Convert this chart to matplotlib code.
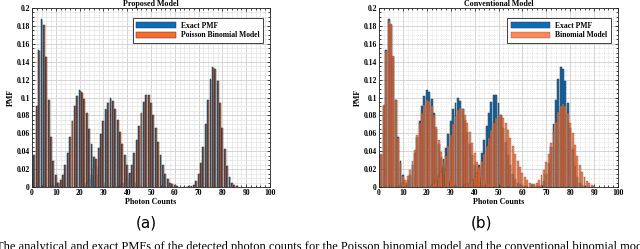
import numpy as np
import matplotlib
matplotlib.use("Agg")
import matplotlib.pyplot as plt
from matplotlib.ticker import MultipleLocator

# ---------------- data ----------------
# five component PMFs, each given as a start count and values at consecutive counts
exact_starts = [0, 9, 22, 36, 64]
exact_1 = [0.008, 0.036, 0.091, 0.153, 0.188, 0.181, 0.145, 0.097, 0.056, 0.029, 0.013, 0.005, 0.002]
exact_2 = [0.001, 0.002, 0.004, 0.008, 0.013, 0.025, 0.038, 0.056, 0.074, 0.091, 0.102, 0.108, 0.106,
           0.098, 0.083, 0.065, 0.048, 0.034, 0.022, 0.013, 0.007, 0.004, 0.002, 0.001]
exact_3 = [0.002, 0.004, 0.008, 0.013, 0.021, 0.031, 0.044, 0.059, 0.074, 0.087, 0.094, 0.099, 0.096,
           0.087, 0.075, 0.061, 0.048, 0.036, 0.025, 0.016, 0.010, 0.006, 0.003, 0.002]
exact_4 = [0.001, 0.001, 0.003, 0.005, 0.009, 0.015, 0.025, 0.038, 0.052, 0.068, 0.083, 0.095, 0.103,
           0.103, 0.094, 0.081, 0.066, 0.050, 0.036, 0.025, 0.015, 0.009, 0.005, 0.003, 0.002, 0.001]
exact_5 = [0.000, 0.000, 0.001, 0.001, 0.002, 0.007, 0.014, 0.027, 0.045, 0.070, 0.097, 0.121, 0.134,
           0.132, 0.118, 0.094, 0.066, 0.043, 0.023, 0.011, 0.005, 0.002, 0.001]

pb_1 = [0.008, 0.036, 0.091, 0.152, 0.187, 0.181, 0.145, 0.097, 0.056, 0.029, 0.013, 0.005, 0.002]
pb_2 = [0.001, 0.002, 0.004, 0.008, 0.013, 0.025, 0.038, 0.056, 0.074, 0.090, 0.102, 0.107, 0.105,
        0.098, 0.083, 0.065, 0.048, 0.034, 0.022, 0.013, 0.007, 0.004, 0.002, 0.001]
pb_3 = [0.002, 0.004, 0.008, 0.013, 0.022, 0.031, 0.044, 0.059, 0.074, 0.086, 0.094, 0.098, 0.096,
        0.087, 0.075, 0.061, 0.048, 0.036, 0.025, 0.016, 0.010, 0.006, 0.003, 0.002]
pb_4 = [0.001, 0.001, 0.003, 0.005, 0.009, 0.015, 0.025, 0.038, 0.052, 0.068, 0.083, 0.095, 0.103,
        0.103, 0.094, 0.081, 0.066, 0.050, 0.036, 0.025, 0.015, 0.009, 0.005, 0.003, 0.002, 0.001]
pb_5 = [0.000, 0.000, 0.001, 0.001, 0.002, 0.007, 0.014, 0.027, 0.045, 0.070, 0.097, 0.120, 0.133,
        0.132, 0.118, 0.094, 0.066, 0.043, 0.023, 0.011, 0.005, 0.002, 0.001]

binom_starts = [0, 8, 22, 36, 64]
binom_1 = [0.008, 0.037, 0.092, 0.152, 0.186, 0.182, 0.146, 0.097, 0.055, 0.027, 0.012, 0.005, 0.002]
binom_2 = [0.001, 0.003, 0.005, 0.008, 0.012, 0.019, 0.029, 0.041, 0.058, 0.071, 0.083, 0.092, 0.097,
           0.096, 0.090, 0.080, 0.067, 0.053, 0.039, 0.028, 0.018, 0.011, 0.007, 0.004, 0.002]
binom_3 = [0.002, 0.004, 0.007, 0.011, 0.017, 0.025, 0.035, 0.046, 0.058, 0.070, 0.079, 0.086, 0.088,
           0.087, 0.081, 0.072, 0.061, 0.049, 0.038, 0.028, 0.019, 0.012, 0.008, 0.005, 0.003, 0.002]
binom_4 = [0.002, 0.003, 0.005, 0.008, 0.011, 0.016, 0.022, 0.029, 0.037, 0.046, 0.055, 0.064, 0.071,
           0.077, 0.080, 0.080, 0.077, 0.071, 0.064, 0.055, 0.046, 0.037, 0.029, 0.022, 0.016, 0.011,
           0.008, 0.005, 0.003, 0.002]
binom_5 = [0.002, 0.003, 0.005, 0.008, 0.013, 0.019, 0.028, 0.037, 0.049, 0.061, 0.073, 0.084, 0.091,
           0.093, 0.090, 0.083, 0.072, 0.060, 0.047, 0.035, 0.025, 0.017, 0.011, 0.007, 0.004, 0.002, 0.001]

exact_sets = [exact_1, exact_2, exact_3, exact_4, exact_5]
pb_sets = [pb_1, pb_2, pb_3, pb_4, pb_5]
binom_sets = [binom_1, binom_2, binom_3, binom_4, binom_5]

titles = ["Proposed Model", "Conventional Model"]
legend_labels = [["Exact PMF", "Poisson Binomial Model"], ["Exact PMF", "Binomial Model"]]
panel_tags = ["(a)", "(b)"]
caption = ("The analytical and exact PMFs of the detected photon counts for the Poisson binomial "
           "model and the conventional binomial model")

# ---------------- styling ----------------
BLUE = "#0A6DBA"
ORANGE = "#FA6A2C"
EDGE = "#3a3a3a"
SERIF = ["Liberation Serif", "DejaVu Serif"]

fig = plt.figure(figsize=(6.4, 2.49), dpi=100)
H = 249.0
axes = [fig.add_axes([32 / 640, (H - 187) / H, 238 / 640, 179 / H]),
        fig.add_axes([379 / 640, (H - 187) / H, 239 / 640, 179 / H])]


def style_axes(ax, idx):
    ax.set_xlim(0, 100)
    ax.set_ylim(0, 0.2)
    ax.xaxis.set_major_locator(MultipleLocator(10))
    ax.xaxis.set_minor_locator(MultipleLocator(2))
    ax.yaxis.set_major_locator(MultipleLocator(0.02))
    ax.yaxis.set_minor_locator(MultipleLocator(0.005))
    ax.set_yticks(np.arange(0, 0.201, 0.02))
    ax.set_yticklabels(["0", "0.02", "0.04", "0.06", "0.08", "0.1", "0.12", "0.14", "0.16", "0.18", "0.2"])
    ax.grid(True, which="major", color="#cfcfcf", lw=0.6, ls="-")
    if idx == 0:
        ax.grid(True, which="minor", color="#e2e2e2", lw=0.5, ls="-")
    else:
        ax.grid(True, which="minor", color="#d0d0d0", lw=0.5, ls=":")
    ax.set_axisbelow(True)
    ax.tick_params(which="both", direction="in", top=True, right=True, labelsize=5.5,
                   pad=1.5, width=0.5)
    ax.tick_params(which="major", length=2.5)
    ax.tick_params(which="minor", length=1.3)
    for lab in ax.get_xticklabels() + ax.get_yticklabels():
        lab.set_family(SERIF)
        lab.set_fontweight("bold")
    for s in ax.spines.values():
        s.set_linewidth(0.6)
        s.set_color("#222222")
    ax.set_title(titles[idx], fontsize=5.8, fontweight="bold", family=SERIF, pad=1.2)
    ax.set_xlabel("Photon Counts", fontsize=5.8, fontweight="bold", family=SERIF, labelpad=0.5)
    ax.set_ylabel("PMF", fontsize=5.8, fontweight="bold", family=SERIF, labelpad=1)


# left panel: grouped bars
ax = axes[0]
for k in range(5):
    x = np.arange(exact_starts[k], exact_starts[k] + len(exact_sets[k]))
    hb = ax.bar(x - 0.2, exact_sets[k], width=0.4, color=BLUE, edgecolor=EDGE, linewidth=0.35)
    ho = ax.bar(x + 0.2, pb_sets[k], width=0.4, color=ORANGE, edgecolor=EDGE, linewidth=0.35)
style_axes(ax, 0)

# right panel: overlaid bars
ax = axes[1]
for k in range(5):
    x = np.arange(exact_starts[k], exact_starts[k] + len(exact_sets[k]))
    hb2 = ax.bar(x, exact_sets[k], width=0.8, color=BLUE, edgecolor=EDGE, linewidth=0.35)
for k in range(5):
    x = np.arange(binom_starts[k], binom_starts[k] + len(binom_sets[k]))
    ho2 = ax.bar(x, binom_sets[k], width=0.8, color=ORANGE, alpha=0.8, edgecolor=EDGE,
                 linewidth=0.25)
style_axes(ax, 1)

for i, (ax, hs) in enumerate(zip(axes, [(hb, ho), (hb2, ho2)])):
    leg = ax.legend(hs, legend_labels[i], loc="upper right", bbox_to_anchor=(0.985, 0.965),
                    prop={"family": SERIF, "weight": "bold", "size": 5.5},
                    handlelength=5.2, handleheight=0.9, handletextpad=0.6, borderpad=0.45,
                    labelspacing=0.25, frameon=True, fancybox=False, framealpha=1,
                    edgecolor="#222222")
    leg.get_frame().set_linewidth(0.6)

fig.text(146 / 640, 1 - 223 / H, panel_tags[0], fontsize=11, ha="center", va="center",
         family="DejaVu Sans")
fig.text(482 / 640, 1 - 223 / H, panel_tags[1], fontsize=11, ha="center", va="center",
         family="DejaVu Sans")
fig.text(-4 / 640, 1 - 241 / H, caption, fontsize=9.0, ha="left", va="top", family=SERIF)

fig.savefig("out.png", dpi=100)
